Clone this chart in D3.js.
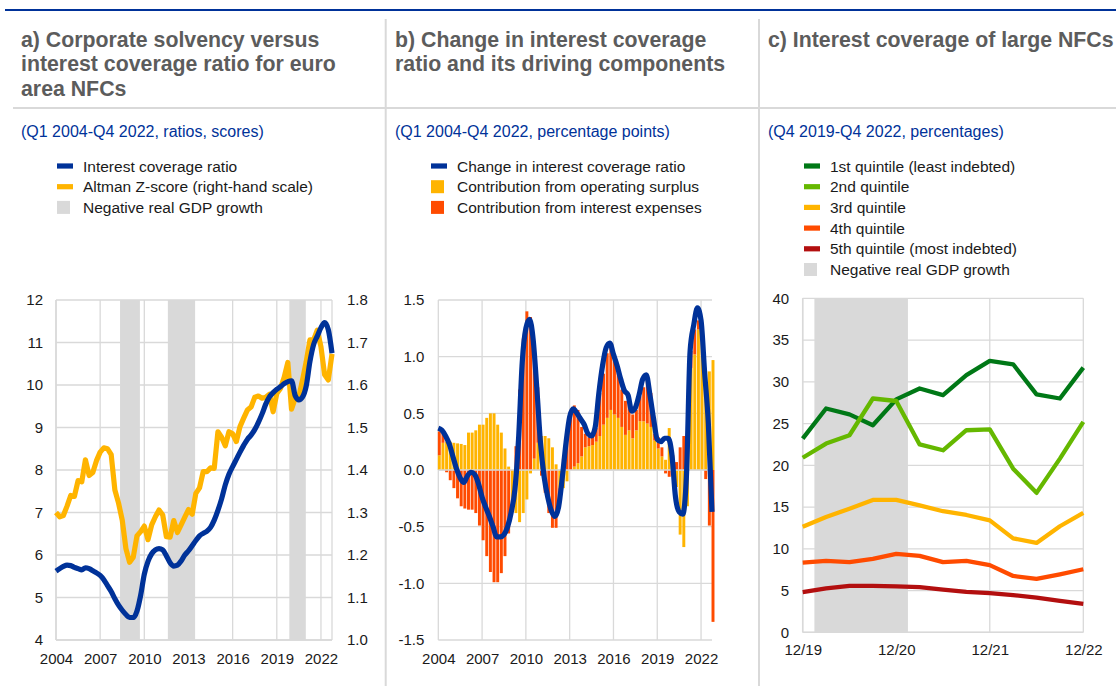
<!DOCTYPE html>
<html><head><meta charset="utf-8">
<script src="https://cdn.jsdelivr.net/npm/d3@7"></script>
<style>body{margin:0;background:#fff}svg{display:block}text{font-family:"Liberation Sans",Arial,sans-serif}</style>
</head><body><svg id="c" width="1116" height="686"></svg>
<script>
// ---------- DATA ----------
const quarters = d3.range(76).map(i => 2004 + i / 4); // Q1 2004 .. Q4 2022
const yearTicks = [2004, 2007, 2010, 2013, 2016, 2019, 2022];

// Panel a
const aIcr = [5.62,5.68,5.73,5.76,5.75,5.71,5.68,5.65,5.70,5.68,5.63,5.58,5.52,5.42,5.28,5.14,4.97,4.82,4.70,4.60,
  4.53,4.53,4.68,5.05,5.55,5.85,6.03,6.12,6.15,6.12,5.98,5.82,5.74,5.76,5.86,6.00,6.10,6.22,6.34,6.45,
  6.51,6.56,6.65,6.82,7.05,7.32,7.65,7.90,8.08,8.25,8.42,8.58,8.72,8.82,8.95,9.12,9.32,9.55,9.72,9.82,
  9.90,9.96,10.03,10.08,10.10,9.75,9.65,9.72,9.98,10.55,10.95,11.15,11.35,11.47,11.30,10.75];
const aZscore = [1.300,1.290,1.293,1.315,1.340,1.338,1.375,1.372,1.424,1.387,1.394,1.422,1.442,1.452,1.450,1.436,1.353,1.322,1.282,1.215,
  1.183,1.195,1.245,1.255,1.268,1.236,1.271,1.290,1.306,1.294,1.243,1.242,1.281,1.253,1.271,1.289,1.307,1.296,1.345,1.358,
  1.396,1.396,1.405,1.404,1.490,1.477,1.457,1.490,1.485,1.467,1.502,1.522,1.541,1.548,1.571,1.574,1.569,1.571,1.578,1.537,
  1.580,1.592,1.618,1.653,1.543,1.569,1.573,1.612,1.655,1.706,1.706,1.729,1.690,1.624,1.612,1.673];
const aLeftTicks = [4,5,6,7,8,9,10,11,12];
const aRightTicks = [1.0,1.1,1.2,1.3,1.4,1.5,1.6,1.7,1.8];
const aRecessions = [[2008.35, 2009.7], [2011.6, 2013.45], [2019.85, 2020.97]];

// Panel b
const bChange = [0.37,0.35,0.30,0.23,0.12,0.01,-0.07,-0.11,-0.05,-0.02,-0.04,-0.12,-0.24,-0.33,-0.41,-0.50,-0.59,-0.59,-0.57,-0.50,
  -0.37,-0.17,0.28,0.95,1.25,1.33,1.15,0.72,0.24,-0.06,-0.24,-0.36,-0.41,-0.32,-0.06,0.24,0.47,0.54,0.50,0.45,
  0.40,0.32,0.30,0.38,0.68,0.92,1.08,1.12,1.02,0.92,0.80,0.70,0.66,0.52,0.55,0.66,0.80,0.84,0.66,0.45,
  0.27,0.25,0.28,0.28,0.14,-0.24,-0.37,-0.39,-0.05,1.05,1.28,1.43,1.32,0.85,0.41,-0.37];
const bOpSurplus = [0.13,0.24,0.25,0.25,0.24,0.235,0.23,0.22,0.33,0.33,0.35,0.40,0.40,0.46,0.50,0.50,0.40,0.33,0.19,0.03,
  -0.26,-0.38,-0.46,-0.38,-0.26,-0.03,0.10,0.24,0.30,0.30,0.28,0.20,0.05,-0.16,-0.16,-0.10,0.00,0.03,0.06,0.12,
  0.20,0.21,0.22,0.25,0.30,0.40,0.46,0.53,0.49,0.46,0.38,0.31,0.35,0.28,0.35,0.43,0.43,0.41,0.38,0.26,
  0.19,0.12,0.09,0.37,0.08,-0.15,-0.57,-0.68,-0.32,0.90,1.02,1.24,1.30,0.87,0.87,0.97];
const bIntExp = [0.21,0.08,-0.02,-0.09,-0.16,-0.25,-0.32,-0.34,-0.35,-0.35,-0.38,-0.49,-0.62,-0.76,-0.90,-0.99,-0.99,-0.91,-0.76,-0.56,
  -0.10,0.21,0.71,1.16,1.40,1.35,1.00,0.49,-0.05,-0.20,-0.38,-0.51,-0.51,-0.12,0.10,0.32,0.53,0.54,0.47,0.26,
  0.12,0.08,0.10,0.12,0.38,0.45,0.57,0.57,0.47,0.40,0.33,0.30,0.30,0.21,0.18,0.22,0.30,0.42,0.30,0.06,
  0.10,0.08,-0.03,-0.06,0.05,0.07,0.20,0.30,0.27,0.15,0.22,0.08,0.00,-0.08,-0.49,-1.34];
const bTicks = [-1.5,-1.0,-0.5,0.0,0.5,1.0,1.5];

// Panel c
const cQuarters = ["12/19","03/20","06/20","09/20","12/20","03/21","06/21","09/21","12/21","03/22","06/22","09/22","12/22"];
const cTickLabels = ["12/19","12/20","12/21","12/22"];
const cQ1 = [23.2,26.8,26.1,24.8,27.9,29.2,28.4,30.8,32.5,32.1,28.5,28.0,31.7];
const cQ2 = [20.9,22.6,23.6,28.0,27.7,22.5,21.8,24.2,24.3,19.6,16.7,20.8,25.2];
const cQ3 = [12.65,13.8,14.8,15.85,15.85,15.2,14.5,14.05,13.4,11.25,10.7,12.7,14.3];
const cQ4 = [8.35,8.55,8.4,8.8,9.4,9.15,8.4,8.55,8.05,6.75,6.4,6.95,7.55];
const cQ5 = [4.8,5.25,5.55,5.55,5.5,5.4,5.1,4.85,4.7,4.45,4.15,3.75,3.4];
const cTicks = [0,5,10,15,20,25,30,35,40];
const cRecessions = [["03/20","12/20"]];

// ---------- STYLE ----------
const BLUE = "#003299", YEL = "#ffb400", ORA = "#ff4b00", GRID = "#d9d9d9", BAND = "#d9d9d9";
const TXT = "#1a1a1a", TITLE = "#5c5c5c";

const svg = d3.select("#c");
svg.append("rect").attr("width",1116).attr("height",686).attr("fill","#fff");

// frame lines
svg.append("line").attr("x1",5).attr("x2",1116).attr("y1",10).attr("y2",10).attr("stroke",BLUE).attr("stroke-width",2);
svg.append("line").attr("x1",13).attr("x2",1116).attr("y1",108).attr("y2",108).attr("stroke",GRID).attr("stroke-width",2);
[385.7, 759].forEach(x => svg.append("line").attr("x1",x).attr("x2",x).attr("y1",19).attr("y2",686).attr("stroke",GRID).attr("stroke-width",2));

function header(x0, lines, sub) {
  const t = svg.append("text").attr("x",x0).attr("y",47).attr("fill",TITLE)
    .attr("font-size",21.3).attr("font-weight","bold");
  lines.forEach((l,i) => t.append("tspan").attr("x",x0).attr("dy", i===0?0:24.4).text(l));
  svg.append("text").attr("x",x0).attr("y",137).attr("fill",BLUE).attr("font-size",16).text(sub);
}
function legend(x0, items) {
  items.forEach((it,i) => {
    const cy = 166 + i*20.7;
    if (it.type === "line") svg.append("rect").attr("x",x0+36).attr("y",cy-2.6).attr("width",16).attr("height",5.2).attr("fill",it.color);
    else svg.append("rect").attr("x",x0+36).attr("y",cy-6.5).attr("width",13).attr("height",13).attr("fill",it.color);
    svg.append("text").attr("x",x0+62).attr("y",cy+5.5).attr("fill",TXT).attr("font-size",15.5).text(it.label);
  });
}
function styleAxis(g, anchor) {
  g.select(".domain").remove();
  g.selectAll("text").attr("fill",TXT).attr("font-size",15).attr("font-family",'"Liberation Sans",Arial,sans-serif');
  if (anchor) g.selectAll("text").attr("text-anchor",anchor);
}

// ---------- PANEL A ----------
header(21, ["a) Corporate solvency versus","interest coverage ratio for euro","area NFCs"], "(Q1 2004-Q4 2022, ratios, scores)");
legend(21, [{type:"line",color:BLUE,label:"Interest coverage ratio"},
            {type:"line",color:YEL,label:"Altman Z-score (right-hand scale)"},
            {type:"rect",color:BAND,label:"Negative real GDP growth"}]);
{
  const x = d3.scaleLinear().domain([2004, 2022.75]).range([56, 332]);
  const y = d3.scaleLinear().domain([4,12]).range([640,300]);
  const y2 = d3.scaleLinear().domain([1.0,1.8]).range([640,300]);
  const g = svg.append("g");
  aLeftTicks.forEach(v => g.append("line").attr("x1",56).attr("x2",332).attr("y1",y(v)).attr("y2",y(v)).attr("stroke",GRID).attr("stroke-width",1.3));
  yearTicks.forEach(v => g.append("line").attr("x1",x(v)).attr("x2",x(v)).attr("y1",300).attr("y2",640).attr("stroke",GRID).attr("stroke-width",1.3));
  g.append("line").attr("x1",332).attr("x2",332).attr("y1",300).attr("y2",640).attr("stroke",GRID).attr("stroke-width",1.3);
  aRecessions.forEach(b => g.append("rect").attr("x",x(b[0])).attr("width",x(b[1])-x(b[0])).attr("y",300).attr("height",340).attr("fill",BAND));
  g.append("line").attr("x1",56).attr("x2",332).attr("y1",640).attr("y2",640).attr("stroke",GRID).attr("stroke-width",1.5);
  g.append("line").attr("x1",56).attr("x2",56).attr("y1",300).attr("y2",640).attr("stroke",GRID).attr("stroke-width",1.5);
  g.append("path").datum(aZscore).attr("fill","none").attr("stroke",YEL).attr("stroke-width",5.2).attr("stroke-linejoin","round")
    .attr("d", d3.line().x((d,i)=>x(quarters[i])).y(d=>y2(d)));
  g.append("path").datum(aIcr).attr("fill","none").attr("stroke",BLUE).attr("stroke-width",5.2).attr("stroke-linejoin","round")
    .attr("d", d3.line().x((d,i)=>x(quarters[i])).y(d=>y(d)).curve(d3.curveMonotoneX));
  styleAxis(svg.append("g").attr("transform","translate(56,0)").call(d3.axisLeft(y).tickValues(aLeftTicks).tickSize(0).tickPadding(13).tickFormat(d3.format("d"))));
  styleAxis(svg.append("g").attr("transform","translate(332,0)").call(d3.axisRight(y2).tickValues(aRightTicks).tickSize(0).tickPadding(15).tickFormat(d3.format(".1f"))));
  styleAxis(svg.append("g").attr("transform","translate(0,640)").call(d3.axisBottom(x).tickValues(yearTicks).tickSize(0).tickPadding(13.5).tickFormat(d3.format("d"))));
}

// ---------- PANEL B ----------
header(395, ["b) Change in interest coverage","ratio and its driving components"], "(Q1 2004-Q4 2022, percentage points)");
legend(395, [{type:"line",color:BLUE,label:"Change in interest coverage ratio"},
             {type:"rect",color:YEL,label:"Contribution from operating surplus"},
             {type:"rect",color:ORA,label:"Contribution from interest expenses"}]);
{
  const x = d3.scaleLinear().domain([2004, 2022.75]).range([438.3, 712]);
  const y = d3.scaleLinear().domain([-1.5,1.5]).range([640,300]);
  const g = svg.append("g");
  bTicks.forEach(v => g.append("line").attr("x1",438.3).attr("x2",712).attr("y1",y(v)).attr("y2",y(v)).attr("stroke",GRID).attr("stroke-width",1.3));
  yearTicks.forEach(v => g.append("line").attr("x1",x(v)).attr("x2",x(v)).attr("y1",300).attr("y2",640).attr("stroke",GRID).attr("stroke-width",1.3));
  const rows = quarters.map((q,i) => ({q, os: bOpSurplus[i], ie: bIntExp[i]}));
  const series = d3.stack().keys(["os","ie"]).offset(d3.stackOffsetDiverging)(rows);
  const colors = {os: YEL, ie: ORA};
  const step = x(2004.25) - x(2004);
  series.forEach(s => {
    g.append("g").attr("fill", colors[s.key]).selectAll("rect").data(s).join("rect")
      .attr("x", d => x(d.data.q) + 1 - (step-0.7)/2)
      .attr("width", step - 0.7)
      .attr("y", d => y(Math.max(d[0], d[1])))
      .attr("height", d => Math.abs(y(d[0]) - y(d[1])));
  });
  g.append("line").attr("x1",438.3).attr("x2",712).attr("y1",y(0)).attr("y2",y(0)).attr("stroke",GRID).attr("stroke-width",1.5);
  g.append("path").datum(bChange).attr("fill","none").attr("stroke",BLUE).attr("stroke-width",5.2).attr("stroke-linejoin","round")
    .attr("d", d3.line().x((d,i)=>x(quarters[i])).y(d=>y(d)).curve(d3.curveMonotoneX));
  styleAxis(svg.append("g").attr("transform","translate(438.3,0)").call(d3.axisLeft(y).tickValues(bTicks).tickSize(0).tickPadding(14).tickFormat(d=>d3.format(".1f")(d).replace("−","-"))));
  styleAxis(svg.append("g").attr("transform","translate(0,640)").call(d3.axisBottom(x).tickValues(yearTicks).tickSize(0).tickPadding(13.5).tickFormat(d3.format("d"))));
}

// ---------- PANEL C ----------
header(768, ["c) Interest coverage of large NFCs"], "(Q4 2019-Q4 2022, percentages)");
const cSeries = [
  {label:"1st quintile (least indebted)", color:"#007816", data:cQ1},
  {label:"2nd quintile", color:"#65b800", data:cQ2},
  {label:"3rd quintile", color:YEL, data:cQ3},
  {label:"4th quintile", color:ORA, data:cQ4},
  {label:"5th quintile (most indebted)", color:"#b30f0f", data:cQ5}];
legend(768, cSeries.map(s => ({type:"line",color:s.color,label:s.label})).concat([{type:"rect",color:BAND,label:"Negative real GDP growth"}]));
{
  const x = d3.scalePoint().domain(cQuarters).range([802.7, 1083.3]);
  const y = d3.scaleLinear().domain([0,40]).range([632.3,298.3]);
  const st = x.step();
  const g = svg.append("g");
  cTicks.forEach(v => g.append("line").attr("x1",802.7).attr("x2",1083.3).attr("y1",y(v)).attr("y2",y(v)).attr("stroke",GRID).attr("stroke-width",1.3));
  cTickLabels.forEach(v => g.append("line").attr("x1",x(v)).attr("x2",x(v)).attr("y1",298.3).attr("y2",632.3).attr("stroke",GRID).attr("stroke-width",1.3));
  cRecessions.forEach(b => g.append("rect").attr("x",x(b[0])-st/2).attr("width",x(b[1])-x(b[0])+st).attr("y",298.3).attr("height",334).attr("fill",BAND));
  g.append("line").attr("x1",802.7).attr("x2",802.7).attr("y1",298.3).attr("y2",632.3).attr("stroke",GRID).attr("stroke-width",1.5);
  g.append("line").attr("x1",802.7).attr("x2",1083.3).attr("y1",632.3).attr("y2",632.3).attr("stroke",GRID).attr("stroke-width",1.5);
  cSeries.forEach(s => g.append("path").datum(s.data).attr("fill","none").attr("stroke",s.color).attr("stroke-width",4.3).attr("stroke-linejoin","round")
    .attr("d", d3.line().x((d,i)=>x(cQuarters[i])).y(d=>y(d))));
  styleAxis(svg.append("g").attr("transform","translate(802.7,0)").call(d3.axisLeft(y).tickValues(cTicks).tickSize(0).tickPadding(13.5)));
  styleAxis(svg.append("g").attr("transform","translate(0,632.3)").call(d3.axisBottom(x).tickValues(cTickLabels).tickSize(0).tickPadding(12.5)));
}
</script></body></html>
